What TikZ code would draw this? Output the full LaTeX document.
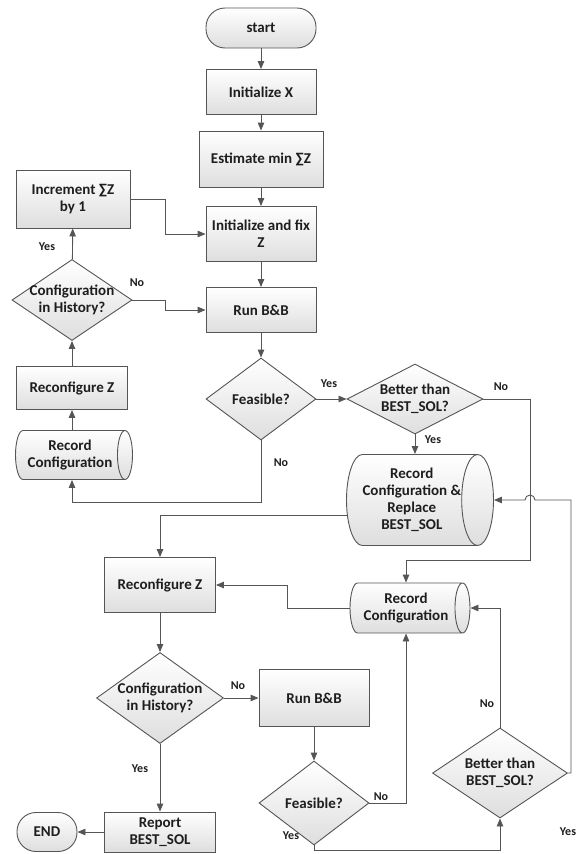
\documentclass[tikz,border=0pt]{standalone}
\usepackage{fontspec}
\setmainfont{Carlito}
\usepackage{tikz}
\usetikzlibrary{arrows.meta,shapes.geometric,calc}
\definecolor{lineGray}{HTML}{555555}
\definecolor{fillGray}{HTML}{DEDEDE}
\definecolor{textDark}{HTML}{1E1E1E}

\begin{document}
\begin{tikzpicture}[x=1pt, y=-1pt,
  every node/.style={font=\bfseries\fontsize{15}{17}\selectfont, text=textDark},
  box/.style={draw=lineGray, line width=0.9pt, top color=white, bottom color=fillGray,
              minimum width=110pt, minimum height=45pt, align=center, inner sep=2pt},
  decision/.style={diamond, draw=lineGray, line width=0.9pt, top color=white, bottom color=fillGray,
              inner sep=-5pt, shape aspect=1.5, align=center},
  % cylinder: minimum height runs along the axis (horizontal here)
  store/.style={cylinder, shape aspect=0.5, anchor=shape center, draw=lineGray, line width=0.9pt,
              top color=white, bottom color=fillGray, inner sep=0pt, align=center},
  terminal/.style={box, rounded corners=19pt, minimum height=40pt},
  ok/.style={-{Triangle[length=8pt,width=6.5pt]}, line width=0.9pt, draw=lineGray},
  lbl/.style={font=\bfseries\fontsize{12}{14}\selectfont, inner sep=1pt}]
\useasboundingbox (0,0) rectangle (578,854);
% main column
\node[terminal] (start) at (261,28) {start};
\node[box] (initX) at (261,92) {Initialize X};
\node[box, minimum width=124pt, minimum height=56pt] (estZ) at (261,159) {Estimate min ∑Z};
\node[box, minimum height=55pt] (fixZ) at (261,234) {Initialize and fix\\Z};
\node[box] (runA) at (261,310) {Run B\&B};
\node[decision, shape aspect=1.34, minimum width=110pt, minimum height=82pt] (feasA) at (261,399) {Feasible?};
\node[decision, shape aspect=1.94, minimum width=136pt, minimum height=70pt] (betA) at (415,399) {Better than\\BEST\_SOL?};
\node[store, minimum height=147pt, minimum width=91pt] (repl) at (420,500) {Record\\Configuration \&\\Replace\\BEST\_SOL};
% left loop
\node[box, minimum width=114pt, minimum height=58pt] (incZ) at (73,199) {Increment ∑Z\\by 1};
\node[decision, shape aspect=1.48, minimum width=120pt, minimum height=81pt] (histA) at (72,300) {Configuration\\in History?};
\node[box, minimum width=111pt, minimum height=43pt] (recfA) at (72,388) {Reconfigure Z};
\node[store, minimum height=117pt, minimum width=49pt] (recA) at (74,455) {Record\\Configuration};
% lower part
\node[box, minimum width=111pt, minimum height=55pt] (recfB) at (160,585) {Reconfigure Z};
\node[store, minimum height=120pt, minimum width=50pt] (recB) at (410,608) {Record\\Configuration};
\node[decision, shape aspect=1.4, minimum width=127pt, minimum height=91pt] (histB) at (160,698) {Configuration\\in History?};
\node[box, minimum height=57pt] (runB) at (314,698) {Run B\&B};
\node[decision, shape aspect=1.31, minimum width=110pt, minimum height=84pt] (feasB) at (314,803) {Feasible?};
\node[box, minimum width=111pt, minimum height=40pt] (rep) at (160,832) {Report\\BEST\_SOL};
\node[terminal, minimum width=60pt, minimum height=39pt] (stop) at (47,832) {END};
\node[decision, minimum width=135pt, minimum height=90pt] (betB) at (500,773) {Better than\\BEST\_SOL?};
\coordinate (jA) at (530,560);
\coordinate (jB) at (261,502);
\coordinate (jC) at (571,500);
\coordinate (jD) at (314,850);
% connectors
\foreach \a/\b in {start/initX, initX/estZ, estZ/fixZ, fixZ/runA, runA/feasA,
  recfA/histA, histA/incZ, recfB/histB, histB/runB, histB/rep, rep/stop, runB/feasB}
  \draw[ok] (\a)--(\b);
\draw[ok] (recA.north -| recfA) -- (recfA);
\draw[ok] (feasA) -- (betA);
\draw[ok] (betA.south) -- (betA.south |- repl.north);
\draw[ok] (incZ.east) -- ++(35,0) |- (fixZ.west);
\draw[ok] (histA.east) -- ++(33,0) |- (runA.west);
\draw[ok] (betA.east) -| (jA) -| (recB.north);
\draw[ok] (feasA.south) -- (jB) -| (recfA |- recA.south);
\draw[ok] (repl.193) -| (recfB.north);
\draw[ok] (recB.west) -- ++(-62,0) |- (recfB.east);
\draw[ok] (feasB.east) -| (recB.south);
\draw[ok] (feasB.south) -- (jD) -| (betB.south);
\draw[ok] (betB.north) |- (recB.east);
\draw[ok] (betB.east) -| (jC) -- (535,500) arc[start angle=0, end angle=180, radius=5pt] -- (repl.east);
% branch labels
\node[lbl] (yFA) at (329,384) {Yes};
\node[lbl] (nBA) at (501,387) {No};
\node[lbl] (yBA) at (433,440) {Yes};
\node[lbl] (nFA) at (281,463) {No};
\node[lbl] (yHA) at (47,247) {Yes};
\node[lbl] (nHA) at (137,283) {No};
\node[lbl] (nHB) at (238,686) {No};
\node[lbl] (yHB) at (140,769) {Yes};
\node[lbl] (nFB) at (381,797) {No};
\node[lbl] (yFB) at (291,836) {Yes};
\node[lbl] (nBB) at (487,704) {No};
\node[lbl] (yBB) at (568,832) {Yes};
\end{tikzpicture}
\end{document}
